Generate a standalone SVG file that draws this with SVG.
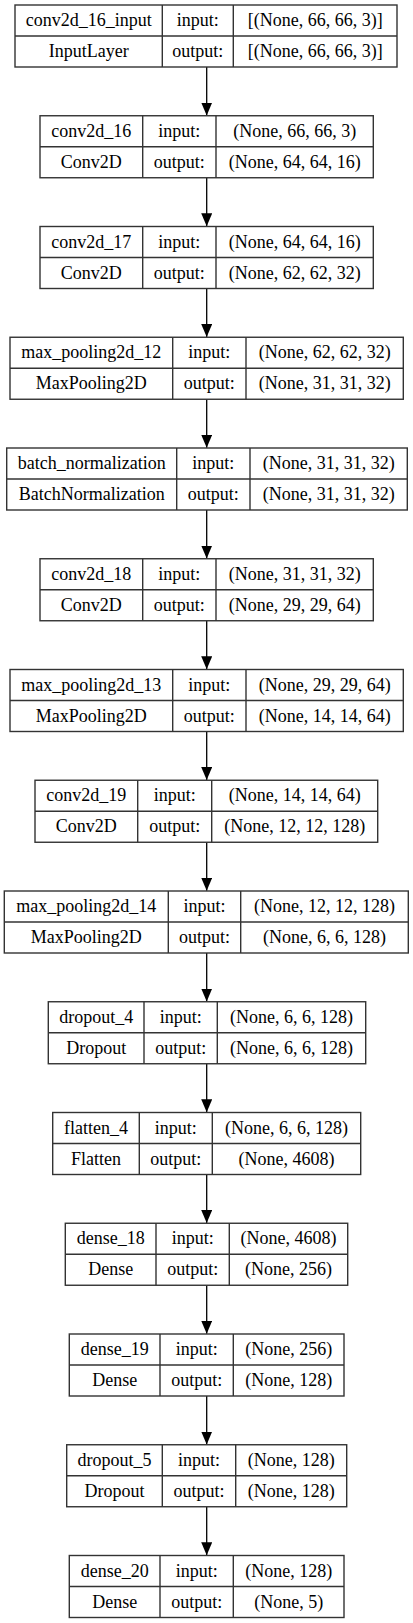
<svg xmlns="http://www.w3.org/2000/svg" width="413" height="1623" viewBox="0 0 413 1623" font-family="'Liberation Serif', 'Times New Roman', 'DejaVu Serif', serif">
<defs>
<style>
.bx{fill:#fff;stroke:#333;stroke-width:1.4}
.dv{stroke:#333;stroke-width:1.4}
text{font-family:'Liberation Serif','Times New Roman','DejaVu Serif',serif;font-size:18px;text-anchor:middle;fill:#000}
.cn{stroke:#000;stroke-width:1.3;fill:none}
</style>
<marker id="ah" markerUnits="userSpaceOnUse" viewBox="0 0 13 11" refX="13" refY="5.5" markerWidth="13" markerHeight="11" orient="auto">
<path d="M0,0 L13,5.5 L0,11 z" fill="#000"/>
</marker>
</defs>
<rect width="413" height="1623" fill="#fff"/>
<g id="connectors">
<line class="cn" x1="206.7" y1="67" x2="206.7" y2="115.5" marker-end="url(#ah)"/>
<line class="cn" x1="206.7" y1="177.75" x2="206.7" y2="226.25" marker-end="url(#ah)"/>
<line class="cn" x1="206.7" y1="288.5" x2="206.7" y2="337" marker-end="url(#ah)"/>
<line class="cn" x1="206.7" y1="399.25" x2="206.7" y2="447.75" marker-end="url(#ah)"/>
<line class="cn" x1="206.7" y1="510" x2="206.7" y2="558.5" marker-end="url(#ah)"/>
<line class="cn" x1="206.7" y1="620.75" x2="206.7" y2="669.25" marker-end="url(#ah)"/>
<line class="cn" x1="206.7" y1="731.5" x2="206.7" y2="780" marker-end="url(#ah)"/>
<line class="cn" x1="206.7" y1="842.25" x2="206.7" y2="890.75" marker-end="url(#ah)"/>
<line class="cn" x1="206.7" y1="953" x2="206.7" y2="1001.5" marker-end="url(#ah)"/>
<line class="cn" x1="206.7" y1="1063.75" x2="206.7" y2="1112.25" marker-end="url(#ah)"/>
<line class="cn" x1="206.7" y1="1174.5" x2="206.7" y2="1223" marker-end="url(#ah)"/>
<line class="cn" x1="206.7" y1="1285.25" x2="206.7" y2="1333.75" marker-end="url(#ah)"/>
<line class="cn" x1="206.7" y1="1396" x2="206.7" y2="1444.5" marker-end="url(#ah)"/>
<line class="cn" x1="206.7" y1="1506.75" x2="206.7" y2="1555.25" marker-end="url(#ah)"/>
</g>
<g id="conv2d_16_input" transform="translate(0,5)">
<rect class="bx" x="15" y="0" width="382" height="62"/>
<line class="dv" x1="15" y1="31" x2="397" y2="31"/><line class="dv" x1="162.3" y1="0" x2="162.3" y2="62"/><line class="dv" x1="233.3" y1="0" x2="233.3" y2="62"/>
<text x="88.7" y="21">conv2d_16_input</text><text x="88.7" y="52">InputLayer</text>
<text x="197.8" y="21">input:</text><text x="197.8" y="52">output:</text>
<text x="315.2" y="21">[(None, 66, 66, 3)]</text><text x="315.2" y="52">[(None, 66, 66, 3)]</text>
</g>
<g id="conv2d_16" transform="translate(0,115.75)">
<rect class="bx" x="40" y="0" width="333.3" height="62"/>
<line class="dv" x1="40" y1="31" x2="373.3" y2="31"/><line class="dv" x1="142.7" y1="0" x2="142.7" y2="62"/><line class="dv" x1="216" y1="0" x2="216" y2="62"/>
<text x="91.3" y="21">conv2d_16</text><text x="91.3" y="52">Conv2D</text>
<text x="179.3" y="21">input:</text><text x="179.3" y="52">output:</text>
<text x="294.7" y="21">(None, 66, 66, 3)</text><text x="294.7" y="52">(None, 64, 64, 16)</text>
</g>
<g id="conv2d_17" transform="translate(0,226.5)">
<rect class="bx" x="40" y="0" width="333.3" height="62"/>
<line class="dv" x1="40" y1="31" x2="373.3" y2="31"/><line class="dv" x1="142.7" y1="0" x2="142.7" y2="62"/><line class="dv" x1="216" y1="0" x2="216" y2="62"/>
<text x="91.3" y="21">conv2d_17</text><text x="91.3" y="52">Conv2D</text>
<text x="179.3" y="21">input:</text><text x="179.3" y="52">output:</text>
<text x="294.7" y="21">(None, 64, 64, 16)</text><text x="294.7" y="52">(None, 62, 62, 32)</text>
</g>
<g id="max_pooling2d_12" transform="translate(0,337.25)">
<rect class="bx" x="10" y="0" width="393.3" height="62"/>
<line class="dv" x1="10" y1="31" x2="403.3" y2="31"/><line class="dv" x1="172.7" y1="0" x2="172.7" y2="62"/><line class="dv" x1="246" y1="0" x2="246" y2="62"/>
<text x="91.3" y="21">max_pooling2d_12</text><text x="91.3" y="52">MaxPooling2D</text>
<text x="209.3" y="21">input:</text><text x="209.3" y="52">output:</text>
<text x="324.7" y="21">(None, 62, 62, 32)</text><text x="324.7" y="52">(None, 31, 31, 32)</text>
</g>
<g id="batch_normalization" transform="translate(0,448)">
<rect class="bx" x="6.7" y="0" width="400.6" height="62"/>
<line class="dv" x1="6.7" y1="31" x2="407.3" y2="31"/><line class="dv" x1="176.7" y1="0" x2="176.7" y2="62"/><line class="dv" x1="250" y1="0" x2="250" y2="62"/>
<text x="91.7" y="21">batch_normalization</text><text x="91.7" y="52">BatchNormalization</text>
<text x="213.3" y="21">input:</text><text x="213.3" y="52">output:</text>
<text x="328.7" y="21">(None, 31, 31, 32)</text><text x="328.7" y="52">(None, 31, 31, 32)</text>
</g>
<g id="conv2d_18" transform="translate(0,558.75)">
<rect class="bx" x="40" y="0" width="333.3" height="62"/>
<line class="dv" x1="40" y1="31" x2="373.3" y2="31"/><line class="dv" x1="142.7" y1="0" x2="142.7" y2="62"/><line class="dv" x1="216" y1="0" x2="216" y2="62"/>
<text x="91.3" y="21">conv2d_18</text><text x="91.3" y="52">Conv2D</text>
<text x="179.3" y="21">input:</text><text x="179.3" y="52">output:</text>
<text x="294.7" y="21">(None, 31, 31, 32)</text><text x="294.7" y="52">(None, 29, 29, 64)</text>
</g>
<g id="max_pooling2d_13" transform="translate(0,669.5)">
<rect class="bx" x="10" y="0" width="393.3" height="62"/>
<line class="dv" x1="10" y1="31" x2="403.3" y2="31"/><line class="dv" x1="172.7" y1="0" x2="172.7" y2="62"/><line class="dv" x1="246" y1="0" x2="246" y2="62"/>
<text x="91.3" y="21">max_pooling2d_13</text><text x="91.3" y="52">MaxPooling2D</text>
<text x="209.3" y="21">input:</text><text x="209.3" y="52">output:</text>
<text x="324.7" y="21">(None, 29, 29, 64)</text><text x="324.7" y="52">(None, 14, 14, 64)</text>
</g>
<g id="conv2d_19" transform="translate(0,780.25)">
<rect class="bx" x="35" y="0" width="342.7" height="62"/>
<line class="dv" x1="35" y1="31" x2="377.7" y2="31"/><line class="dv" x1="137.7" y1="0" x2="137.7" y2="62"/><line class="dv" x1="211.7" y1="0" x2="211.7" y2="62"/>
<text x="86.3" y="21">conv2d_19</text><text x="86.3" y="52">Conv2D</text>
<text x="174.7" y="21">input:</text><text x="174.7" y="52">output:</text>
<text x="294.7" y="21">(None, 14, 14, 64)</text><text x="294.7" y="52">(None, 12, 12, 128)</text>
</g>
<g id="max_pooling2d_14" transform="translate(0,891)">
<rect class="bx" x="4.3" y="0" width="404" height="62"/>
<line class="dv" x1="4.3" y1="31" x2="408.3" y2="31"/><line class="dv" x1="168.3" y1="0" x2="168.3" y2="62"/><line class="dv" x1="240.7" y1="0" x2="240.7" y2="62"/>
<text x="86.3" y="21">max_pooling2d_14</text><text x="86.3" y="52">MaxPooling2D</text>
<text x="204.5" y="21">input:</text><text x="204.5" y="52">output:</text>
<text x="324.5" y="21">(None, 12, 12, 128)</text><text x="324.5" y="52">(None, 6, 6, 128)</text>
</g>
<g id="dropout_4" transform="translate(0,1001.75)">
<rect class="bx" x="48.3" y="0" width="317.4" height="62"/>
<line class="dv" x1="48.3" y1="31" x2="365.7" y2="31"/><line class="dv" x1="144" y1="0" x2="144" y2="62"/><line class="dv" x1="217.3" y1="0" x2="217.3" y2="62"/>
<text x="96.2" y="21">dropout_4</text><text x="96.2" y="52">Dropout</text>
<text x="180.7" y="21">input:</text><text x="180.7" y="52">output:</text>
<text x="291.5" y="21">(None, 6, 6, 128)</text><text x="291.5" y="52">(None, 6, 6, 128)</text>
</g>
<g id="flatten_4" transform="translate(0,1112.5)">
<rect class="bx" x="52.7" y="0" width="308" height="62"/>
<line class="dv" x1="52.7" y1="31" x2="360.7" y2="31"/><line class="dv" x1="139.3" y1="0" x2="139.3" y2="62"/><line class="dv" x1="212.3" y1="0" x2="212.3" y2="62"/>
<text x="96" y="21">flatten_4</text><text x="96" y="52">Flatten</text>
<text x="175.8" y="21">input:</text><text x="175.8" y="52">output:</text>
<text x="286.5" y="21">(None, 6, 6, 128)</text><text x="286.5" y="52">(None, 4608)</text>
</g>
<g id="dense_18" transform="translate(0,1223.25)">
<rect class="bx" x="65.3" y="0" width="282.4" height="62"/>
<line class="dv" x1="65.3" y1="31" x2="347.7" y2="31"/><line class="dv" x1="156" y1="0" x2="156" y2="62"/><line class="dv" x1="229.3" y1="0" x2="229.3" y2="62"/>
<text x="110.7" y="21">dense_18</text><text x="110.7" y="52">Dense</text>
<text x="192.7" y="21">input:</text><text x="192.7" y="52">output:</text>
<text x="288.5" y="21">(None, 4608)</text><text x="288.5" y="52">(None, 256)</text>
</g>
<g id="dense_19" transform="translate(0,1334)">
<rect class="bx" x="69.3" y="0" width="274.7" height="62"/>
<line class="dv" x1="69.3" y1="31" x2="344" y2="31"/><line class="dv" x1="160" y1="0" x2="160" y2="62"/><line class="dv" x1="233.3" y1="0" x2="233.3" y2="62"/>
<text x="114.7" y="21">dense_19</text><text x="114.7" y="52">Dense</text>
<text x="196.7" y="21">input:</text><text x="196.7" y="52">output:</text>
<text x="288.7" y="21">(None, 256)</text><text x="288.7" y="52">(None, 128)</text>
</g>
<g id="dropout_5" transform="translate(0,1444.75)">
<rect class="bx" x="66.7" y="0" width="280" height="62"/>
<line class="dv" x1="66.7" y1="31" x2="346.7" y2="31"/><line class="dv" x1="162.3" y1="0" x2="162.3" y2="62"/><line class="dv" x1="235.7" y1="0" x2="235.7" y2="62"/>
<text x="114.5" y="21">dropout_5</text><text x="114.5" y="52">Dropout</text>
<text x="199" y="21">input:</text><text x="199" y="52">output:</text>
<text x="291.2" y="21">(None, 128)</text><text x="291.2" y="52">(None, 128)</text>
</g>
<g id="dense_20" transform="translate(0,1555.5)">
<rect class="bx" x="69.3" y="0" width="274.7" height="62"/>
<line class="dv" x1="69.3" y1="31" x2="344" y2="31"/><line class="dv" x1="160" y1="0" x2="160" y2="62"/><line class="dv" x1="233.3" y1="0" x2="233.3" y2="62"/>
<text x="114.7" y="21">dense_20</text><text x="114.7" y="52">Dense</text>
<text x="196.7" y="21">input:</text><text x="196.7" y="52">output:</text>
<text x="288.7" y="21">(None, 128)</text><text x="288.7" y="52">(None, 5)</text>
</g>
</svg>
